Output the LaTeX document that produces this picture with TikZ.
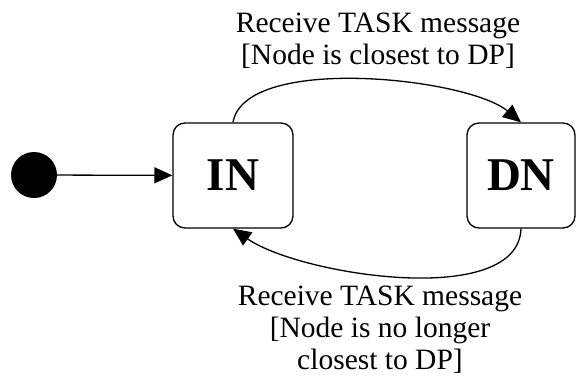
\documentclass[tikz,border=0pt]{standalone}
\usepackage{fontspec}
\setmainfont{Liberation Serif}
\usetikzlibrary{arrows.meta,positioning}

\begin{document}
\begin{tikzpicture}[
    x=1pt, y=-1pt,
    state/.style={rectangle, draw=black, line width=1.3pt, rounded corners=12pt, minimum height=105pt, font=\fontsize{47}{50}\selectfont\bfseries},
    arrow/.style={-{Triangle[length=18pt,width=16pt]}, line width=1.3pt},
    label/.style={align=center, inner sep=0pt, font=\fontsize{29.5}{32}\selectfont}
]
\useasboundingbox (0,0) rectangle (576,383);

% Initial state and the two states
\node[circle, fill=black, minimum size=46pt, inner sep=0pt] (start) at (34,175) {};
\node[state, minimum width=120pt] (in) at (233,175.5) {IN};
\node[state, minimum width=108pt] (dn) at (521,175.5) {DN};

% Transitions
\draw[arrow] (start) -- (in);
\draw[arrow] (in.north) to[out=80, in=140, looseness=0.62] (dn.north);
\draw[arrow] (dn.south) to[out=-92, in=-35, looseness=0.72] (in.south);

% Guards
\node[label] (up) at (378,41) {Receive TASK message\\{[}Node is closest to DP{]}};
\node[label] (down) at (380,330) {Receive TASK message\\{[}Node is no longer\\closest to DP{]}};

\end{tikzpicture}
\end{document}
